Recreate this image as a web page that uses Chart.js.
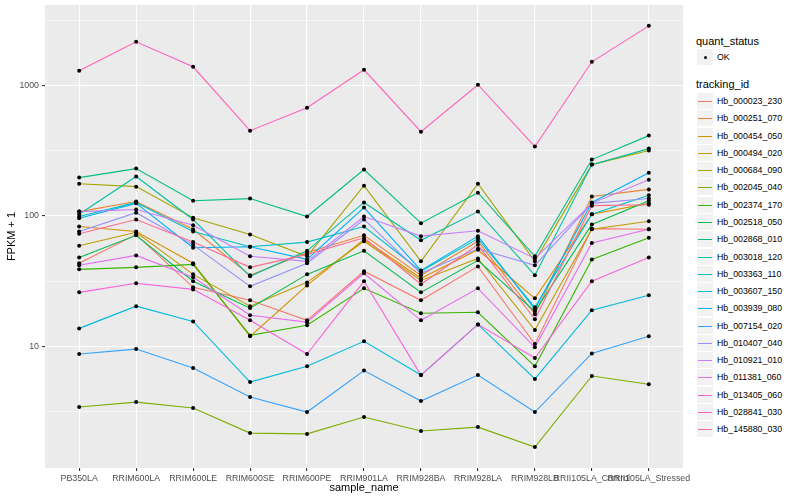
<!DOCTYPE html>
<html>
<head>
<meta charset="utf-8">
<script src="https://cdn.jsdelivr.net/npm/chart.js@4.4.1/dist/chart.umd.min.js"></script>
<style>
  body { margin: 0; background: #fff; }
  #wrap { position: relative; width: 800px; height: 500px; background: #fff; font-family: 'Liberation Sans', Arial, Helvetica, sans-serif; }
  #plot { position: absolute; left: 0; top: 0; }
  .lg { position: absolute; white-space: nowrap; color: #000; }
  .lg-title { font-size: 11px; height: 14px; line-height: 14px; }
  .lg-text { font-size: 8.8px; height: 12px; line-height: 12px; }
  .lg-key { position: absolute; background: #F2F2F2; width: 16px; height: 16px; }
</style>
</head>
<body>
<div id="wrap">
  <canvas id="plot" width="690" height="500"></canvas>
  <div id="legend"></div>
</div>
<script>
// x categories
const sampleNames = ['PB350LA', 'RRIM600LA', 'RRIM600LE', 'RRIM600SE', 'RRIM600PE', 'RRIM901LA',
  'RRIM928BA', 'RRIM928LA', 'RRIM928LB', 'RRII105LA_Control', 'RRII105LA_Stressed'];

// FPKM + 1 per tracking id
const hb_000023_230 = [43.3, 72, 28.3, 22.5, 15.8, 37.6, 22.5, 41, 10.4, 80, 79];
const hb_000251_070 = [108, 129, 79, 35, 52.5, 71, 35, 64, 17.6, 141, 160];
const hb_000454_050 = [83, 76, 43.3, 11.9, 29.3, 66, 33.2, 55, 23.3, 103, 125];
const hb_000494_020 = [59, 75, 35.6, 20.3, 30.9, 64, 32, 47.2, 13.3, 79, 91];
const hb_000684_090 = [177, 168, 97, 72, 49, 171, 44.8, 177, 44.8, 248, 318];
const hb_002045_040 = [3.41, 3.72, 3.35, 2.15, 2.12, 2.86, 2.23, 2.39, 1.68, 5.9, 5.1];
const hb_002374_170 = [38.9, 40.3, 42.5, 12.1, 14.5, 27.8, 17.9, 18.2, 7.0, 46.4, 68];
const hb_002518_050 = [48, 71, 31.5, 19.6, 35.6, 54, 25.9, 45.6, 18.5, 86, 131];
const hb_002868_010 = [197, 231, 131, 136, 99, 227, 88, 151, 49, 271, 414];
const hb_003018_120 = [103, 201, 94, 34.4, 54, 127, 65, 108, 35, 248, 329];
const hb_003363_110 = [99, 127, 76, 58, 63, 83, 37.6, 67, 19.9, 103, 144];
const hb_003607_150 = [13.7, 20.3, 15.5, 5.3, 7.0, 10.9, 6.0, 14.7, 5.6, 18.9, 24.6];
const hb_003939_080 = [96, 125, 57, 58, 46.4, 116, 38.2, 70, 19.2, 127, 215];
const hb_007154_020 = [8.7, 9.5, 6.8, 4.07, 3.12, 6.5, 3.79, 6.0, 3.12, 8.8, 11.9];
const hb_010407_040 = [76, 106, 60, 28.8, 43.3, 94, 36.3, 56, 41.8, 125, 136];
const hb_010921_010 = [108, 112, 85, 49, 44.8, 99, 70, 77, 47.2, 125, 190];
const hb_011381_060 = [41.8, 49.8, 33.8, 17.3, 15.3, 36.3, 15.8, 27.8, 9.8, 62, 79];
const hb_013405_060 = [25.9, 30.4, 27.3, 15.8, 8.7, 31.5, 6.0, 14.7, 8.1, 31.5, 48];
const hb_028841_030 = [1303, 2174, 1398, 452, 678, 1326, 444, 1018, 341, 1527, 2883];
const hb_145880_030 = [73, 94, 63, 40.3, 50.7, 68, 29.9, 60, 16.1, 120, 122];

const trackingIds = ['Hb_000023_230', 'Hb_000251_070', 'Hb_000454_050', 'Hb_000494_020', 'Hb_000684_090',
  'Hb_002045_040', 'Hb_002374_170', 'Hb_002518_050', 'Hb_002868_010', 'Hb_003018_120',
  'Hb_003363_110', 'Hb_003607_150', 'Hb_003939_080', 'Hb_007154_020', 'Hb_010407_040',
  'Hb_010921_010', 'Hb_011381_060', 'Hb_013405_060', 'Hb_028841_030', 'Hb_145880_030'];
const series = [hb_000023_230, hb_000251_070, hb_000454_050, hb_000494_020, hb_000684_090,
  hb_002045_040, hb_002374_170, hb_002518_050, hb_002868_010, hb_003018_120,
  hb_003363_110, hb_003607_150, hb_003939_080, hb_007154_020, hb_010407_040,
  hb_010921_010, hb_011381_060, hb_013405_060, hb_028841_030, hb_145880_030];

// y axis: labelled majors and the minor grid between them
const yMajorTicks = [10, 100, 1000];
const yGridValues = [3.1623, 10, 31.623, 100, 316.23, 1000, 3162.3];

// ggplot hue palette for 20 groups
const lineColors = ['#F8766D', '#EA8331', '#D89000', '#C09B00', '#A3A500', '#7CAE00', '#39B600',
  '#00BB4E', '#00BF7D', '#00C1A3', '#00BFC4', '#00BAE0', '#00B0F6', '#35A2FF', '#9590FF',
  '#C77CFF', '#E76BF3', '#FA62DB', '#FF62BC', '#FF6C91'];

const FONT = "'Liberation Sans', Arial, Helvetica, sans-serif";

// grey panel behind the grid
const panelBg = {
  id: 'panelBg',
  beforeDraw(chart) {
    const { ctx, chartArea: a } = chart;
    ctx.save();
    ctx.fillStyle = '#EBEBEB';
    ctx.fillRect(a.left, a.top, a.right - a.left, a.bottom - a.top);
    ctx.restore();
  }
};

function isMajor(v) {
  return yMajorTicks.some(m => Math.abs(m - v) < 1e-6);
}

// all points as one layer (quant_status = OK), drawn above the lines
const pointData = [];
series.forEach(s => s.forEach((v, i) => pointData.push({ x: i, y: v })));

const datasets = [{
  type: 'scatter',
  label: 'OK',
  data: pointData,
  pointRadius: 2,
  pointBackgroundColor: '#000',
  pointBorderWidth: 0,
  showLine: false,
  order: 0
}];
series.forEach((s, k) => {
  datasets.push({
    type: 'line',
    label: trackingIds[k],
    data: s.map((v, i) => ({ x: i, y: v })),
    borderColor: lineColors[k],
    borderWidth: 1.1,
    pointRadius: 0,
    fill: false,
    tension: 0,
    order: 40 - k
  });
});

new Chart(document.getElementById('plot'), {
  type: 'line',
  data: { datasets: datasets },
  plugins: [panelBg],
  options: {
    responsive: false,
    animation: false,
    events: [],
    layout: { padding: { top: 5, right: 7, bottom: 0, left: 0 } },
    plugins: {
      legend: { display: false },
      tooltip: { enabled: false }
    },
    scales: {
      x: {
        type: 'linear',
        min: -0.6,
        max: 10.6,
        bounds: 'data',
        afterBuildTicks: s => { s.ticks = sampleNames.map((n, i) => ({ value: i })); },
        afterFit: s => { s.height = 32; s.paddingLeft = 0; s.paddingRight = 0; },
        ticks: {
          callback: v => sampleNames[v] ?? '',
          autoSkip: false,
          maxRotation: 0,
          minRotation: 0,
          padding: 2,
          color: '#4D4D4D',
          font: { family: FONT, size: 8.8 }
        },
        grid: { color: '#FFFFFF', lineWidth: 1.1, tickLength: 3, tickColor: '#333333' },
        border: { display: false },
        title: {
          display: true,
          text: 'sample_name',
          color: '#000',
          font: { family: FONT, size: 11 },
          padding: { top: 0, bottom: 5 }
        }
      },
      y: {
        type: 'logarithmic',
        min: 1.16,
        max: 4170,
        bounds: 'data',
        afterBuildTicks: s => { s.ticks = yGridValues.map(v => ({ value: v })); },
        afterFit: s => { s.width = 45; s.paddingTop = 0; s.paddingBottom = 0; },
        ticks: {
          callback: v => isMajor(v) ? String(Math.round(v)) : '',
          autoSkip: false,
          padding: 3,
          color: '#4D4D4D',
          font: { family: FONT, size: 8.8 }
        },
        grid: {
          color: '#FFFFFF',
          lineWidth: c => (c.tick && isMajor(c.tick.value)) ? 1.1 : 0.55,
          tickLength: 3,
          tickColor: c => (c.tick && isMajor(c.tick.value)) ? '#333333' : 'rgba(0,0,0,0)'
        },
        border: { display: false },
        title: {
          display: true,
          text: 'FPKM + 1',
          color: '#000',
          font: { family: FONT, size: 11 },
          padding: { top: 5, bottom: 0 }
        }
      }
    }
  }
});

// legend (ggplot style, right side)
const legend = document.getElementById('legend');
function addEl(cls, left, top, text) {
  const el = document.createElement('div');
  el.className = cls;
  el.style.left = left + 'px';
  el.style.top = top + 'px';
  if (text !== undefined) el.textContent = text;
  legend.appendChild(el);
  return el;
}

addEl('lg lg-title', 696, 34, 'quant_status');
addEl('lg-key', 697, 49);
const dot = addEl('lg', 703.5, 55.5);
dot.style.width = '3px'; dot.style.height = '3px'; dot.style.borderRadius = '50%'; dot.style.background = '#000';
addEl('lg lg-text', 717, 51, 'OK');

addEl('lg lg-title', 696, 77, 'tracking_id');
trackingIds.forEach((id, k) => {
  const cy = Math.round(101 + k * 17.28);
  addEl('lg-key', 697, cy - 8);
  const ln = addEl('lg', 698, cy);
  ln.style.width = '14px'; ln.style.height = '1px'; ln.style.background = lineColors[k];
  addEl('lg lg-text', 717, cy - 6, id);
});
</script>
</body>
</html>
